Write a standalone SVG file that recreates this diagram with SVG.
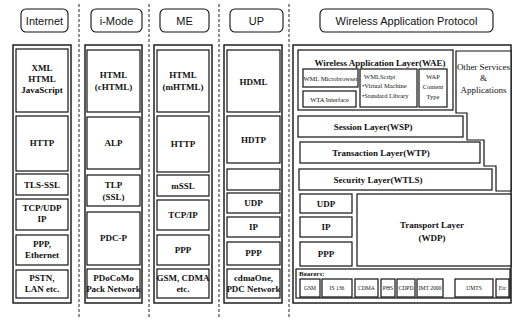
<svg xmlns="http://www.w3.org/2000/svg" width="513" height="320" viewBox="0 0 513 320">
  <style>
    rect, polygon { fill: #fff; stroke: #111; stroke-width: 1.2; }
    .outer { stroke-width: 1.4; }
    .pill { stroke-width: 1.1; }
    .sep { stroke: #222; stroke-width: 1; stroke-dasharray: 3 2; fill: none; }
    text { fill: #111; text-anchor: middle; }
    .hd { font-family: "Liberation Sans Narrow", "Liberation Sans", Arial, sans-serif; font-size: 11px; }
    .t { font-family: "Liberation Serif", "Times New Roman", serif; font-size: 9px; font-weight: bold; }
    .r { font-family: "Liberation Serif", "Times New Roman", serif; font-size: 9px; }
    .s { font-family: "Liberation Serif", "Times New Roman", serif; font-size: 6.5px; }
    .b { font-family: "Liberation Serif", "Times New Roman", serif; font-size: 5.6px; }
    .sb { font-family: "Liberation Serif", "Times New Roman", serif; font-size: 7px; font-weight: bold; }
    .l { text-anchor: start; }
  </style>

  <!-- column separators -->
  <g id="separators">
    <line class="sep" x1="79" y1="4" x2="79" y2="318"/>
    <line class="sep" x1="149" y1="4" x2="149" y2="318"/>
    <line class="sep" x1="219" y1="4" x2="219" y2="318"/>
    <line class="sep" x1="289" y1="4" x2="289" y2="318"/>
  </g>

  <!-- Internet stack -->
  <g id="internet">
    <rect class="pill" x="21" y="9" width="47" height="23" rx="5"/>
    <text class="hd" x="44.5" y="24.5">Internet</text>
    <rect class="outer" x="13" y="45" width="58" height="258"/>
    <rect x="16" y="49" width="52" height="63"/>
    <text class="t" x="42" y="71">XML</text>
    <text class="t" x="42" y="82">HTML</text>
    <text class="t" x="42" y="93">JavaScript</text>
    <rect x="16" y="116" width="52" height="55"/>
    <text class="t" x="42" y="146">HTTP</text>
    <rect x="16" y="174" width="52" height="21"/>
    <text class="t" x="42" y="188">TLS-SSL</text>
    <rect x="16" y="199" width="52" height="31"/>
    <text class="t" x="42" y="211">TCP/UDP</text>
    <text class="t" x="42" y="222">IP</text>
    <rect x="16" y="235" width="52" height="30"/>
    <text class="t" x="42" y="247">PPP,</text>
    <text class="t" x="42" y="258">Ethernet</text>
    <rect x="16" y="270" width="52" height="28"/>
    <text class="t" x="42" y="281">PSTN,</text>
    <text class="t" x="42" y="292">LAN etc.</text>
  </g>

  <!-- i-Mode stack -->
  <g id="imode">
    <rect class="pill" x="91" y="9" width="51" height="23" rx="5"/>
    <text class="hd" x="116.5" y="24.5">i-Mode</text>
    <rect class="outer" x="85" y="45" width="57" height="258"/>
    <rect x="87" y="50" width="53" height="62"/>
    <text class="t" x="113.5" y="78">HTML</text>
    <text class="t" x="113.5" y="90">(cHTML)</text>
    <rect x="87" y="117" width="53" height="52"/>
    <text class="t" x="113.5" y="146">ALP</text>
    <rect x="87" y="175" width="53" height="31"/>
    <text class="t" x="113.5" y="188">TLP</text>
    <text class="t" x="113.5" y="200">(SSL)</text>
    <rect x="87" y="212" width="53" height="53"/>
    <text class="t" x="113.5" y="241">PDC-P</text>
    <rect x="87" y="269" width="53" height="29"/>
    <text class="t" x="113.5" y="281">PDoCoMo</text>
    <text class="t" x="113.5" y="292">Pack Network</text>
  </g>

  <!-- ME stack -->
  <g id="me">
    <rect class="pill" x="160" y="9" width="49" height="23" rx="5"/>
    <text class="hd" x="184.5" y="24.5">ME</text>
    <rect class="outer" x="154" y="45" width="58" height="258"/>
    <rect x="157" y="50" width="52" height="62"/>
    <text class="t" x="183" y="78">HTML</text>
    <text class="t" x="183" y="90">(mHTML)</text>
    <rect x="157" y="116" width="52" height="56"/>
    <text class="t" x="183" y="147">HTTP</text>
    <rect x="157" y="175" width="52" height="21"/>
    <text class="t" x="183" y="189">mSSL</text>
    <rect x="157" y="200" width="52" height="30"/>
    <text class="t" x="183" y="218">TCP/IP</text>
    <rect x="157" y="235" width="52" height="30"/>
    <text class="t" x="183" y="253">PPP</text>
    <rect x="157" y="269" width="52" height="29"/>
    <text class="t" x="183" y="281">GSM, CDMA</text>
    <text class="t" x="183" y="292">etc.</text>
  </g>

  <!-- UP stack -->
  <g id="up">
    <rect class="pill" x="230" y="9" width="53" height="23" rx="5"/>
    <text class="hd" x="256.5" y="24.5">UP</text>
    <rect class="outer" x="224" y="45" width="58" height="258"/>
    <rect x="227" y="50" width="53" height="62"/>
    <text class="t" x="253.5" y="85">HDML</text>
    <rect x="227" y="116" width="53" height="47"/>
    <text class="t" x="253.5" y="143">HDTP</text>
    <rect x="227" y="169" width="53" height="21"/>
    <rect x="227" y="193" width="53" height="20"/>
    <text class="t" x="253.5" y="206">UDP</text>
    <rect x="227" y="217" width="53" height="20"/>
    <text class="t" x="253.5" y="230">IP</text>
    <rect x="227" y="242" width="53" height="23"/>
    <text class="t" x="253.5" y="256">PPP</text>
    <rect x="227" y="269" width="53" height="29"/>
    <text class="t" x="253.5" y="281">cdmaOne,</text>
    <text class="t" x="253.5" y="292">PDC Network</text>
  </g>

  <!-- WAP stack -->
  <g id="wap">
    <rect class="pill" x="320" y="9" width="173" height="23" rx="5"/>
    <text class="hd" x="406.5" y="24.5">Wireless Application Protocol</text>
    <rect class="outer" x="293" y="45" width="218" height="258"/>

    <g id="wae">
      <rect x="298" y="50" width="155" height="60"/>
      <text class="t" x="380" y="66">Wireless Application Layer(WAE)</text>
      <rect x="303" y="69" width="55" height="18"/>
      <text class="s" x="330.5" y="80.5">WML Microbrowser</text>
      <rect x="303" y="91" width="53" height="16"/>
      <text class="s" x="329.5" y="101.5">WTA Interface</text>
      <rect x="360" y="69" width="57" height="38"/>
      <text class="s l" x="364" y="79">WMLScript</text>
      <text class="s l" x="362" y="88">•Virtual Machine</text>
      <text class="s l" x="362" y="98">•Standard Library</text>
      <rect x="419" y="69" width="28" height="38"/>
      <text class="s" x="433" y="79">WAP</text>
      <text class="s" x="433" y="89">Content</text>
      <text class="s" x="433" y="99">Type</text>
    </g>

    <g id="other-services">
      <polygon points="456,51 511,51 511,191 496,191 496,166 484,166 484,140 467,140 467,113 456,113"/>
      <text class="r" x="483.5" y="70">Other Services</text>
      <text class="r" x="483.5" y="81">&amp;</text>
      <text class="r" x="483.5" y="93">Applications</text>
    </g>

    <g id="session">
      <rect x="298" y="116" width="165" height="21"/>
      <text class="t" x="373" y="130">Session Layer(WSP)</text>
    </g>
    <g id="transaction">
      <rect x="300" y="142" width="180" height="21"/>
      <text class="t" x="381" y="156">Transaction Layer(WTP)</text>
    </g>
    <g id="security">
      <rect x="299" y="169" width="193" height="21"/>
      <text class="t" x="378" y="183">Security Layer(WTLS)</text>
    </g>

    <g id="wap-udp">
      <rect x="300" y="194" width="52" height="19"/>
      <text class="t" x="326" y="207">UDP</text>
    </g>
    <g id="wap-ip">
      <rect x="300" y="217" width="52" height="20"/>
      <text class="t" x="326" y="230">IP</text>
    </g>
    <g id="wap-ppp">
      <rect x="300" y="242" width="52" height="24"/>
      <text class="t" x="326" y="257">PPP</text>
    </g>
    <g id="transport">
      <rect x="357" y="194" width="154" height="72"/>
      <text class="t" x="432" y="228">Transport Layer</text>
      <text class="t" x="432" y="241">(WDP)</text>
    </g>

    <g id="bearers">
      <rect x="296" y="269" width="214" height="29"/>
      <text class="sb l" x="299" y="276">Bearers:</text>
      <rect x="300" y="279" width="20" height="18"/>
      <text class="b" x="310" y="290">GSM</text>
      <rect x="322" y="279" width="30" height="18"/>
      <text class="b" x="337" y="290">IS 136</text>
      <rect x="355" y="279" width="23" height="18"/>
      <text class="b" x="366.5" y="290">CDMA</text>
      <rect x="381" y="279" width="14" height="18"/>
      <text class="b" x="388" y="290">PHS</text>
      <rect x="397" y="279" width="18" height="18"/>
      <text class="b" x="406" y="290">CDPD</text>
      <rect x="417" y="279" width="26" height="18"/>
      <text class="b" x="430" y="290">IMT 2000</text>
      <rect x="455" y="279" width="38" height="18"/>
      <text class="b" x="474" y="290">UMTS</text>
      <rect x="496" y="279" width="13" height="18"/>
      <text class="b" x="502.5" y="290">Etc</text>
    </g>
  </g>
</svg>
